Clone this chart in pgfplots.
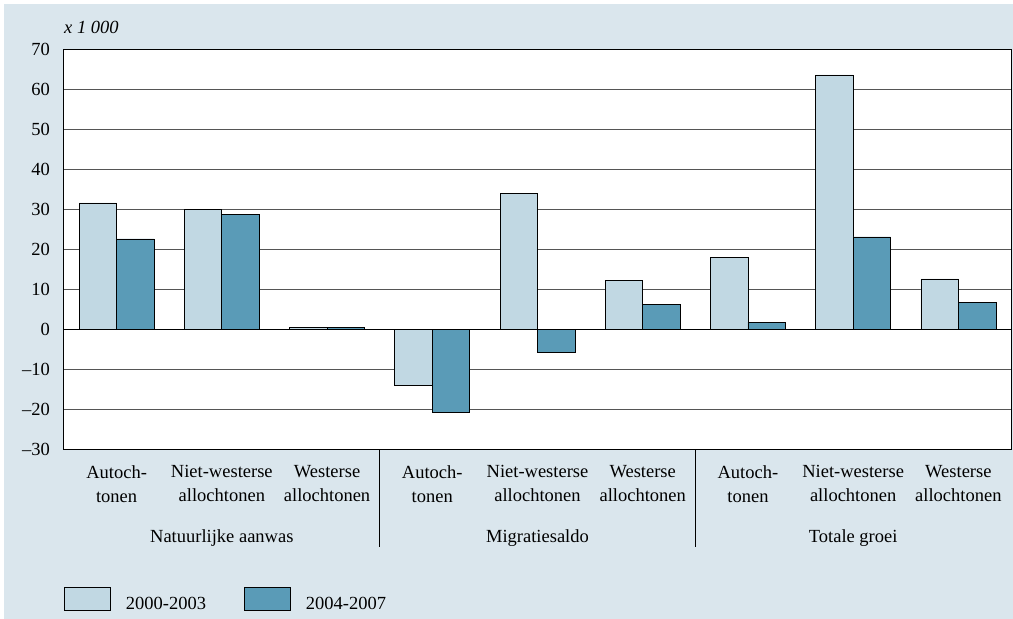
\documentclass[border=0pt]{standalone}
\usepackage{fontspec}
\setmainfont{Liberation Serif}
\usepackage{pgfplots}
\pgfplotsset{compat=1.18}
\definecolor{bg}{RGB}{218,230,237}
\definecolor{lightbar}{RGB}{193,216,227}
\definecolor{darkbar}{RGB}{90,155,183}
\definecolor{gridc}{RGB}{85,85,85}
\newcommand{\chartfont}{\fontsize{18.5}{24}\selectfont}
\begin{document}
\chartfont
\begin{tikzpicture}[x=1pt,y=1pt]
\fill[white] (0,0) rectangle (1013,619);
\fill[bg] (4,0) rectangle (1013,615);
\begin{axis}[
  at={(64pt,169.7pt)}, anchor=south west,
  scale only axis, width=947pt, height=400pt,
  xmin=-0.5, xmax=8.5, ymin=-30, ymax=70,
  ytick={-30,-20,-10,0,10,20,30,40,50,60,70},
  yticklabels={--30,--20,--10,0,10,20,30,40,50,60,70},
  ymajorgrids, grid style={gridc, line width=1pt},
  major tick length=0pt,
  xtick={0,1,2,3,4,5,6,7,8},
  xticklabels={Autoch-\\tonen, Niet-westerse\\allochtonen, Westerse\\allochtonen,
               Autoch-\\tonen, Niet-westerse\\allochtonen, Westerse\\allochtonen,
               Autoch-\\tonen, Niet-westerse\\allochtonen, Westerse\\allochtonen},
  xticklabel style={align=center, anchor=north, inner sep=0pt, yshift=-16pt,
                    font=\chartfont},
  yticklabel style={anchor=east, inner sep=0pt, xshift=-14pt,
                    font=\chartfont},
  axis line style={black, line width=1pt},
  axis background/.style={fill=white},
  ybar=0pt, bar width=37.5pt,
  clip=false,
  legend columns=2,
  legend style={at={(axis description cs:0,0)}, anchor=north west, yshift=-137pt,
                draw=none, fill=none, inner sep=0pt,
                nodes={inner sep=0pt, font=\chartfont},
                /tikz/every odd column/.append style={column sep=15pt},
                /tikz/every even column/.append style={column sep=38pt}},
  legend image code/.code={\draw[#1, draw=black, line width=0.8pt] (0pt,-5pt) rectangle (46pt,18pt);},
]
\addplot[fill=lightbar, draw=black, line width=0.7pt] coordinates {
  (0,31.6) (1,29.9) (2,0.4) (3,-13.9) (4,34.0) (5,12.3) (6,17.9) (7,63.6) (8,12.6)};
\addlegendentry{2000-2003}
\addplot[fill=darkbar, draw=black, line width=0.7pt] coordinates {
  (0,22.6) (1,28.8) (2,0.4) (3,-20.8) (4,-5.7) (5,6.2) (6,1.8) (7,23.1) (8,6.7)};
\addlegendentry{2004-2007}
\draw[black, line width=1pt] (axis cs:-0.5,0) -- (axis cs:8.5,0);
\draw[black, line width=0.9pt] (axis cs:2.5,-30) -- ++(0pt,-98pt);
\draw[black, line width=0.9pt] (axis cs:5.5,-30) -- ++(0pt,-98pt);
\node[anchor=base, inner sep=0pt] at ([yshift=-93pt]axis cs:1,-30) {Natuurlijke aanwas};
\node[anchor=base, inner sep=0pt] at ([yshift=-93pt]axis cs:4,-30) {Migratiesaldo};
\node[anchor=base, inner sep=0pt] at ([yshift=-93pt]axis cs:7,-30) {Totale groei};
\node[anchor=base west, inner sep=0pt] at ([yshift=16pt]axis cs:-0.5,70) {\itshape x 1 000};
\end{axis}
\end{tikzpicture}
\end{document}
